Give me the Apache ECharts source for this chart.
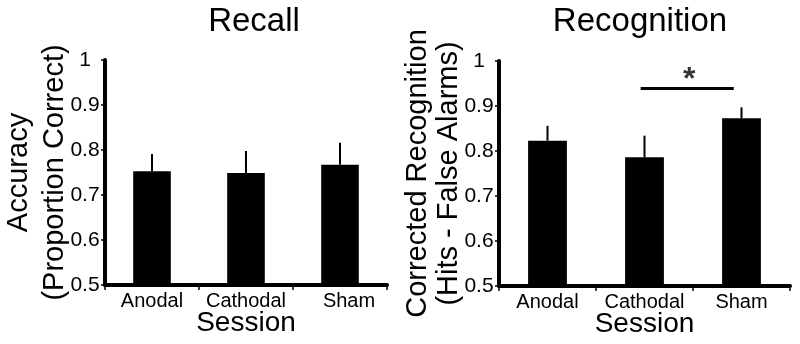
<!DOCTYPE html>
<html>
<head>
<meta charset="utf-8">
<script src="https://cdn.jsdelivr.net/npm/echarts@6/dist/echarts.min.js"></script>
<style>
  html, body { margin: 0; padding: 0; background: #fff; }
  #chart { width: 800px; height: 344px; }
</style>
</head>
<body>
<div id="chart"></div>
<script>
// data
const categories = ['Anodal', 'Cathodal', 'Sham'];
const recallMean = [0.753, 0.749, 0.767];
const recallSE = [0.038, 0.049, 0.049];
const recogMean = [0.823, 0.786, 0.873];
const recogSE = [0.033, 0.048, 0.024];
// significance bar between Cathodal and Sham (x in category units)
const sigLine = [[1.46, 0.939], [2.42, 0.939]];
const sigStar = [[1.96, 0.957]];

const FONT = 'Liberation Sans, Arial, sans-serif';

const chart = echarts.init(document.getElementById('chart'), null, { renderer: 'canvas' });

function xCat(gridIndex, nameGap, shiftSham) {
  return {
    type: 'category',
    gridIndex: gridIndex,
    data: categories,
    name: 'Session',
    nameLocation: 'middle',
    nameGap: nameGap,
    nameMoveOverlap: false,
    nameTextStyle: { fontFamily: FONT, fontSize: 28, color: '#000' },
    axisLine: { lineStyle: { color: '#000', width: 4 } },
    axisTick: { show: true, length: 5, lineStyle: { color: '#000', width: 1.5 } },
    axisLabel: {
      interval: 0, fontFamily: FONT, fontSize: 20, color: '#000', margin: 6,
      formatter: v => (shiftSham && v === 'Sham') ? '{s|' + v + '}' : v,
      rich: { s: { fontFamily: FONT, fontSize: 20, color: '#000', padding: [0, 0, 0, 18] } }
    }
  };
}

function yVal(gridIndex, name, lineHeight, nameGap) {
  return {
    type: 'value',
    gridIndex: gridIndex,
    min: 0.5,
    max: 1,
    interval: 0.1,
    name: name,
    nameLocation: 'middle',
    nameRotate: 90,
    nameGap: nameGap,
    nameMoveOverlap: false,
    nameTextStyle: { fontFamily: FONT, fontSize: 29, color: '#000', lineHeight: lineHeight },
    splitLine: { show: false },
    axisLine: { show: true, lineStyle: { color: '#000', width: 4 } },
    axisTick: { show: true, length: 4, lineStyle: { color: '#000', width: 1.5 } },
    axisLabel: { fontFamily: FONT, fontSize: 21, color: '#000', align: 'center', margin: 20 }
  };
}

function errorSeries(xAxisIndex, yAxisIndex, mean, se) {
  return {
    type: 'custom',
    xAxisIndex: xAxisIndex,
    yAxisIndex: yAxisIndex,
    z: 3,
    data: mean.map((m, i) => [i, m, m + se[i]]),
    renderItem: function (params, api) {
      const p0 = api.coord([api.value(0), api.value(1)]);
      const p1 = api.coord([api.value(0), api.value(2)]);
      return {
        type: 'line',
        shape: { x1: p0[0], y1: p0[1], x2: p1[0], y2: p1[1] },
        style: { stroke: '#000', lineWidth: 2 }
      };
    }
  };
}

const option = {
  animation: false,
  backgroundColor: '#fff',
  title: [
    { text: 'Recall', left: 249, top: 0, textAlign: 'center',
      textStyle: { fontFamily: FONT, fontSize: 33, fontWeight: 'normal', color: '#000' } },
    { text: 'Recognition', left: 635, top: 0, textAlign: 'center',
      textStyle: { fontFamily: FONT, fontSize: 33, fontWeight: 'normal', color: '#000' } }
  ],
  grid: [
    { left: 105, top: 60, width: 282, height: 225, outerBoundsMode: 'none', containLabel: false },
    { left: 499, top: 61, width: 291, height: 225, outerBoundsMode: 'none', containLabel: false }
  ],
  xAxis: [
    xCat(0, 24, true),
    xCat(1, 24, false),
    { type: 'value', gridIndex: 1, min: 0, max: 3, show: false }
  ],
  yAxis: [
    yVal(0, 'Accuracy\n(Proportion Correct)', 36, 32),
    yVal(1, 'Corrected Recognition\n(Hits - False Alarms)', 31, 35)
  ],
  series: [
    { type: 'bar', xAxisIndex: 0, yAxisIndex: 0, data: recallMean, barWidth: '40%',
      itemStyle: { color: '#000' } },
    errorSeries(0, 0, recallMean, recallSE),
    { type: 'bar', xAxisIndex: 1, yAxisIndex: 1, data: recogMean, barWidth: '40%',
      itemStyle: { color: '#000' } },
    errorSeries(1, 1, recogMean, recogSE),
    { type: 'line', xAxisIndex: 2, yAxisIndex: 1, data: sigLine, symbol: 'none',
      lineStyle: { color: '#000', width: 3 } },
    { type: 'scatter', xAxisIndex: 2, yAxisIndex: 1, data: sigStar, symbolSize: 1,
      itemStyle: { color: 'rgba(0,0,0,0)' },
      label: { show: true, position: 'inside', formatter: '*', fontFamily: FONT,
        fontSize: 32, fontWeight: 'bold', color: '#000' } }
  ]
};

chart.setOption(option);
</script>
</body>
</html>
